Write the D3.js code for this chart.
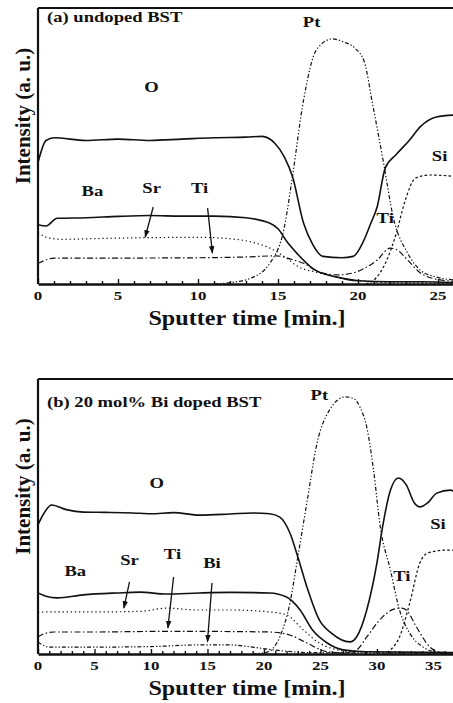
<!DOCTYPE html>
<html>
<head>
<meta charset="utf-8">
<script src="https://cdn.jsdelivr.net/npm/d3@7"></script>
<style>
  body { margin: 0; background: #fff; }
  svg text { font-family: "Liberation Serif", "DejaVu Serif", serif; font-weight: bold; fill: #111; }
</style>
</head>
<body>
<div id="chart"></div>
<script>
// ---- panel (a): undoped BST, [time (min), intensity (a.u.)]
var oA  = [[0,44],[0.5,52],[1,53],[3,52],[5,52.5],[7,52],[9,52.5],[11,53],[13,53.2],[14,53.5],[14.8,51],[15.4,46],[15.9,39],[16.6,22],[17.2,14],[17.8,10],[19,9.5],[19.7,10],[20.3,15],[20.8,22],[21.2,28],[21.7,42],[22.4,47],[23.2,52],[23.9,57],[24.9,60.5],[26,61.2]];
var baA = [[0,21.5],[0.5,21],[1.2,23.8],[3,24],[5,24.5],[7,24.8],[9,24.6],[11,24.6],[13,24],[14.5,22],[15,20],[15.6,15],[16.2,11],[17.2,5.5],[18.7,2.5],[20,1.2],[22,0.8],[24,0.8],[26,0.5]];
var srA = [[0,18.5],[0.5,17],[1.5,16.2],[4,16.5],[7,16.8],[10,16.9],[12,16.4],[13.5,15],[14.5,13],[15.5,9.5],[16.2,6.5],[17.6,4],[19,2],[20.5,1],[22,0.5],[26,0.3]];
var tiA = [[0,7.5],[0.4,8.5],[1,9.4],[5,9.4],[10,9.5],[13,9.8],[14.9,10.2],[15.8,9],[16.6,7.5],[17.6,4.3],[18.7,3.3],[19.7,4],[20.5,6],[21.2,8.7],[22,13],[22.4,12.5],[23.1,8.7],[23.9,4],[24.7,2],[26,1]];
var ptA = [[11,0],[12,0.5],[13.25,2],[14.5,7.6],[15.4,20.7],[15.9,38.8],[16.6,66.7],[17.4,84.8],[18.4,88.8],[19.1,87.7],[19.8,85.5],[20.4,80.4],[20.9,65.6],[21.6,43.8],[22.2,24.3],[23.1,11.2],[23.9,5],[24.9,2.5],[26,1.5]];
var siA = [[20.5,0],[21.1,2],[21.8,8.7],[22.4,18.5],[22.9,29.3],[23.6,38.4],[24.5,39.5],[26,39]];
var labelsA = [["O",7.1,71.4],["Ba",3.4,34],["Sr",7.1,34.8],["Ti",10.1,34.8],["Pt",17.1,95],["Si",25.1,46.7],["Ti",21.7,23.9]];
var arrowsA = [[7.2,27.9,6.7,17.0],[10.6,27.5,10.9,11.2]];

// ---- panel (b): 20 mol% Bi doped BST
var oB  = [[0,47],[0.5,51],[1.2,54.2],[2.5,52.5],[4,51.6],[6,51.5],[8.4,51.3],[10,51],[12,51.4],[14.3,50.5],[17,50.9],[19,51.3],[20.5,51],[21.4,49.8],[22.3,44],[23,35.3],[23.8,24.4],[24.9,12.4],[26,7.5],[27.6,4.4],[28.2,6.2],[29.1,16],[30,33.1],[30.5,46.2],[31.2,59.6],[31.9,64],[32.6,61.5],[33.3,55],[33.8,53.5],[34.5,55],[35.3,58.5],[36.5,59.6],[37,58.5]];
var baB = [[0,22.2],[0.7,21],[1.7,20.4],[4,21.5],[7,22.2],[9,22.5],[11.4,21.8],[14.3,22.2],[17,22.4],[20.5,22.2],[22,20.7],[23.2,16],[24.3,8.7],[25.6,4],[27,1.5],[29,0.8],[37,0.5]];
var srB = [[0,15],[0.6,15.3],[5,15.3],[9,15.5],[11.5,16.7],[14,16],[17,16],[20.5,15.3],[22,14.2],[23.5,8.7],[24.9,4],[26.5,1.5],[28,0.8],[37,0.5]];
var tiB = [[0,6.2],[0.5,7.3],[1.4,8],[5,8],[10,8.2],[15,8.2],[20.5,8],[22.3,6.9],[23.8,4],[25.6,0.8],[27,0.4],[28.2,1.5],[29.1,6.2],[30.5,13.5],[31.5,16.3],[32.2,16.7],[32.6,16],[33.5,9.8],[34.7,2.5],[35.6,0.7],[37,0.3]];
var biB = [[0,4.4],[0.4,3.3],[1,2.5],[5,2.5],[10,2.7],[14.3,3.3],[17,3.3],[19,2.5],[20.8,1.5],[22,1],[24,0.5],[37,0.3]];
var ptB = [[19,0],[20.3,0.7],[21.4,6.2],[22.3,18.5],[23,35.3],[23.8,55],[24.7,76.7],[25.8,88.7],[27.2,93.5],[27.9,93],[28.5,89.8],[29.1,82.5],[29.7,66.9],[30.3,46.2],[31.2,30.5],[32,16],[32.9,7.6],[34.1,2.5],[35.3,0.7],[37,0.3]];
var siB = [[30.5,0],[31.2,1.5],[32,6.2],[32.9,18.5],[33.8,33.1],[34.5,36.7],[36.2,37.8],[37,37.8]];
var labelsB = [["O",10.5,62.5],["Ba",3.3,30.5],["Sr",8.1,34.2],["Ti",11.9,36.7],["Bi",15.4,33.1],["Pt",24.9,94.5],["Si",35.4,47.3],["Ti",32.2,28.7]];
var arrowsB = [[8.1,26.2,7.6,16.7],[12.0,28,11.5,9.5],[15.4,25.8,15.0,4.4]];

var ticksA = [0,5,10,15,20,25];
var ticksB = [0,5,10,15,20,25,30,35];

// line styles
var SOLID = null, DOT = "1.3,2.8", DASHDOT = "6,2.5,1.5,2.5", DASHDOTDOT = "4,2,1.3,2,1.3,2", SHORTDASH = "2.6,2.2";

function init(){

    var svg = d3.select("#chart").append("svg")
        .attr("width", 453).attr("height", 703);

    var defs = svg.append("defs");
    defs.append("marker").attr("id","arr")
        .attr("viewBox","0 0 10 10").attr("refX",9).attr("refY",5)
        .attr("markerWidth",6).attr("markerHeight",6).attr("orient","auto")
        .append("path").attr("d","M0,1.5 L10,5 L0,8.5 Z").attr("fill","#111");

    // the scanned lettering is wider than a normal bold serif, so stretch it a bit
    function wideText(sel, x, y, sx){
        return sel.attr("transform", "translate(" + x + "," + y + ") scale(" + sx + ",1)");
    }

    drawPanel(svg, {
        id: "a", left: 38, right: 454, top: 8, bottom: 284, xmax: 26,
        ticks: ticksA, title: "(a) undoped BST", titleY: 22,
        series: [[oA,SOLID],[baA,SOLID],[srA,DOT],[tiA,DASHDOT],[ptA,DASHDOTDOT],[siA,SHORTDASH]],
        labels: labelsA, arrows: arrowsA
    });

    drawPanel(svg, {
        id: "b", left: 38, right: 456, top: 379, bottom: 654, xmax: 37,
        ticks: ticksB, title: "(b) 20 mol% Bi doped BST", titleY: 407,
        series: [[oB,SOLID],[baB,SOLID],[srB,DOT],[tiB,DASHDOT],[biB,DASHDOTDOT],[ptB,DASHDOTDOT],[siB,SHORTDASH]],
        labels: labelsB, arrows: arrowsB
    });

    function drawPanel(svg, p){
        var x = d3.scaleLinear().domain([0, p.xmax]).range([p.left, p.right]);
        var y = d3.scaleLinear().domain([0, 100]).range([p.bottom, p.top]);

        defs.append("clipPath").attr("id","clip"+p.id)
            .append("rect").attr("x",p.left).attr("y",p.top)
            .attr("width",p.right-p.left).attr("height",p.bottom-p.top);

        var line = d3.line()
            .x(function(d){ return x(d[0]); })
            .y(function(d){ return y(d[1]); })
            .curve(d3.curveMonotoneX);

        var g = svg.append("g").attr("clip-path","url(#clip"+p.id+")");
        g.selectAll("path")
            .data(p.series)
            .enter()
            .append("path")
            .attr("d", function(d){ return line(d[0]); })
            .attr("fill","none")
            .attr("stroke","#111")
            .attr("stroke-width", function(d){ return d[1] ? 1.2 : 1.6; })
            .attr("stroke-dasharray", function(d){ return d[1]; });

        // frame: top and left
        svg.append("line").attr("x1",p.left).attr("x2",453).attr("y1",p.top).attr("y2",p.top)
            .attr("stroke","#111").attr("stroke-width",2.2);
        svg.append("line").attr("x1",p.left).attr("x2",p.left).attr("y1",p.top).attr("y2",p.bottom)
            .attr("stroke","#111").attr("stroke-width",2.2);

        // x axis with inward minor ticks
        var minor = d3.range(0, p.xmax + 1, 1);
        var ax = svg.append("g").attr("transform","translate(0,"+p.bottom+")")
            .call(d3.axisBottom(x).tickValues(minor).tickSize(0).tickFormat(""));
        ax.select(".domain").attr("stroke","#111").attr("stroke-width",2.6);
        ax.selectAll(".tick line")
            .attr("y2", function(d){ return d % 5 === 0 ? -5 : -3; })
            .attr("stroke","#111").attr("stroke-width",1.4);

        svg.append("g").selectAll("text")
            .data(p.ticks)
            .enter()
            .append("text")
            .each(function(d){ wideText(d3.select(this), x(d), p.bottom + 16, 1.25); })
            .attr("text-anchor","middle")
            .attr("font-size", 13.5)
            .text(function(d){ return d; });

        wideText(svg.append("text"), 247, p.bottom + 41, 1.15)
            .attr("text-anchor","middle")
            .attr("font-size", 21)
            .text("Sputter time [min.]");

        var cy = (p.top + p.bottom)/2 - 30;
        svg.append("text")
            .attr("transform","translate(30,"+cy+") rotate(-90)")
            .attr("text-anchor","middle")
            .attr("font-size", 21)
            .text("Intensity (a. u.)");

        wideText(svg.append("text"), p.left + 9, p.titleY, 1.2)
            .attr("font-size", 15.5)
            .text(p.title);

        svg.append("g").selectAll("text")
            .data(p.labels)
            .enter()
            .append("text")
            .each(function(d){ wideText(d3.select(this), x(d[1]), y(d[2]), 1.2); })
            .attr("dy","0.35em")
            .attr("text-anchor","middle")
            .attr("font-size", 15.5)
            .text(function(d){ return d[0]; });

        svg.append("g").selectAll("line")
            .data(p.arrows)
            .enter()
            .append("line")
            .attr("x1", function(d){ return x(d[0]); })
            .attr("y1", function(d){ return y(d[1]); })
            .attr("x2", function(d){ return x(d[2]); })
            .attr("y2", function(d){ return y(d[3]); })
            .attr("stroke","#111").attr("stroke-width",1.3)
            .attr("marker-end","url(#arr)");
    };
}
window.onload = init;
</script>
</body>
</html>
